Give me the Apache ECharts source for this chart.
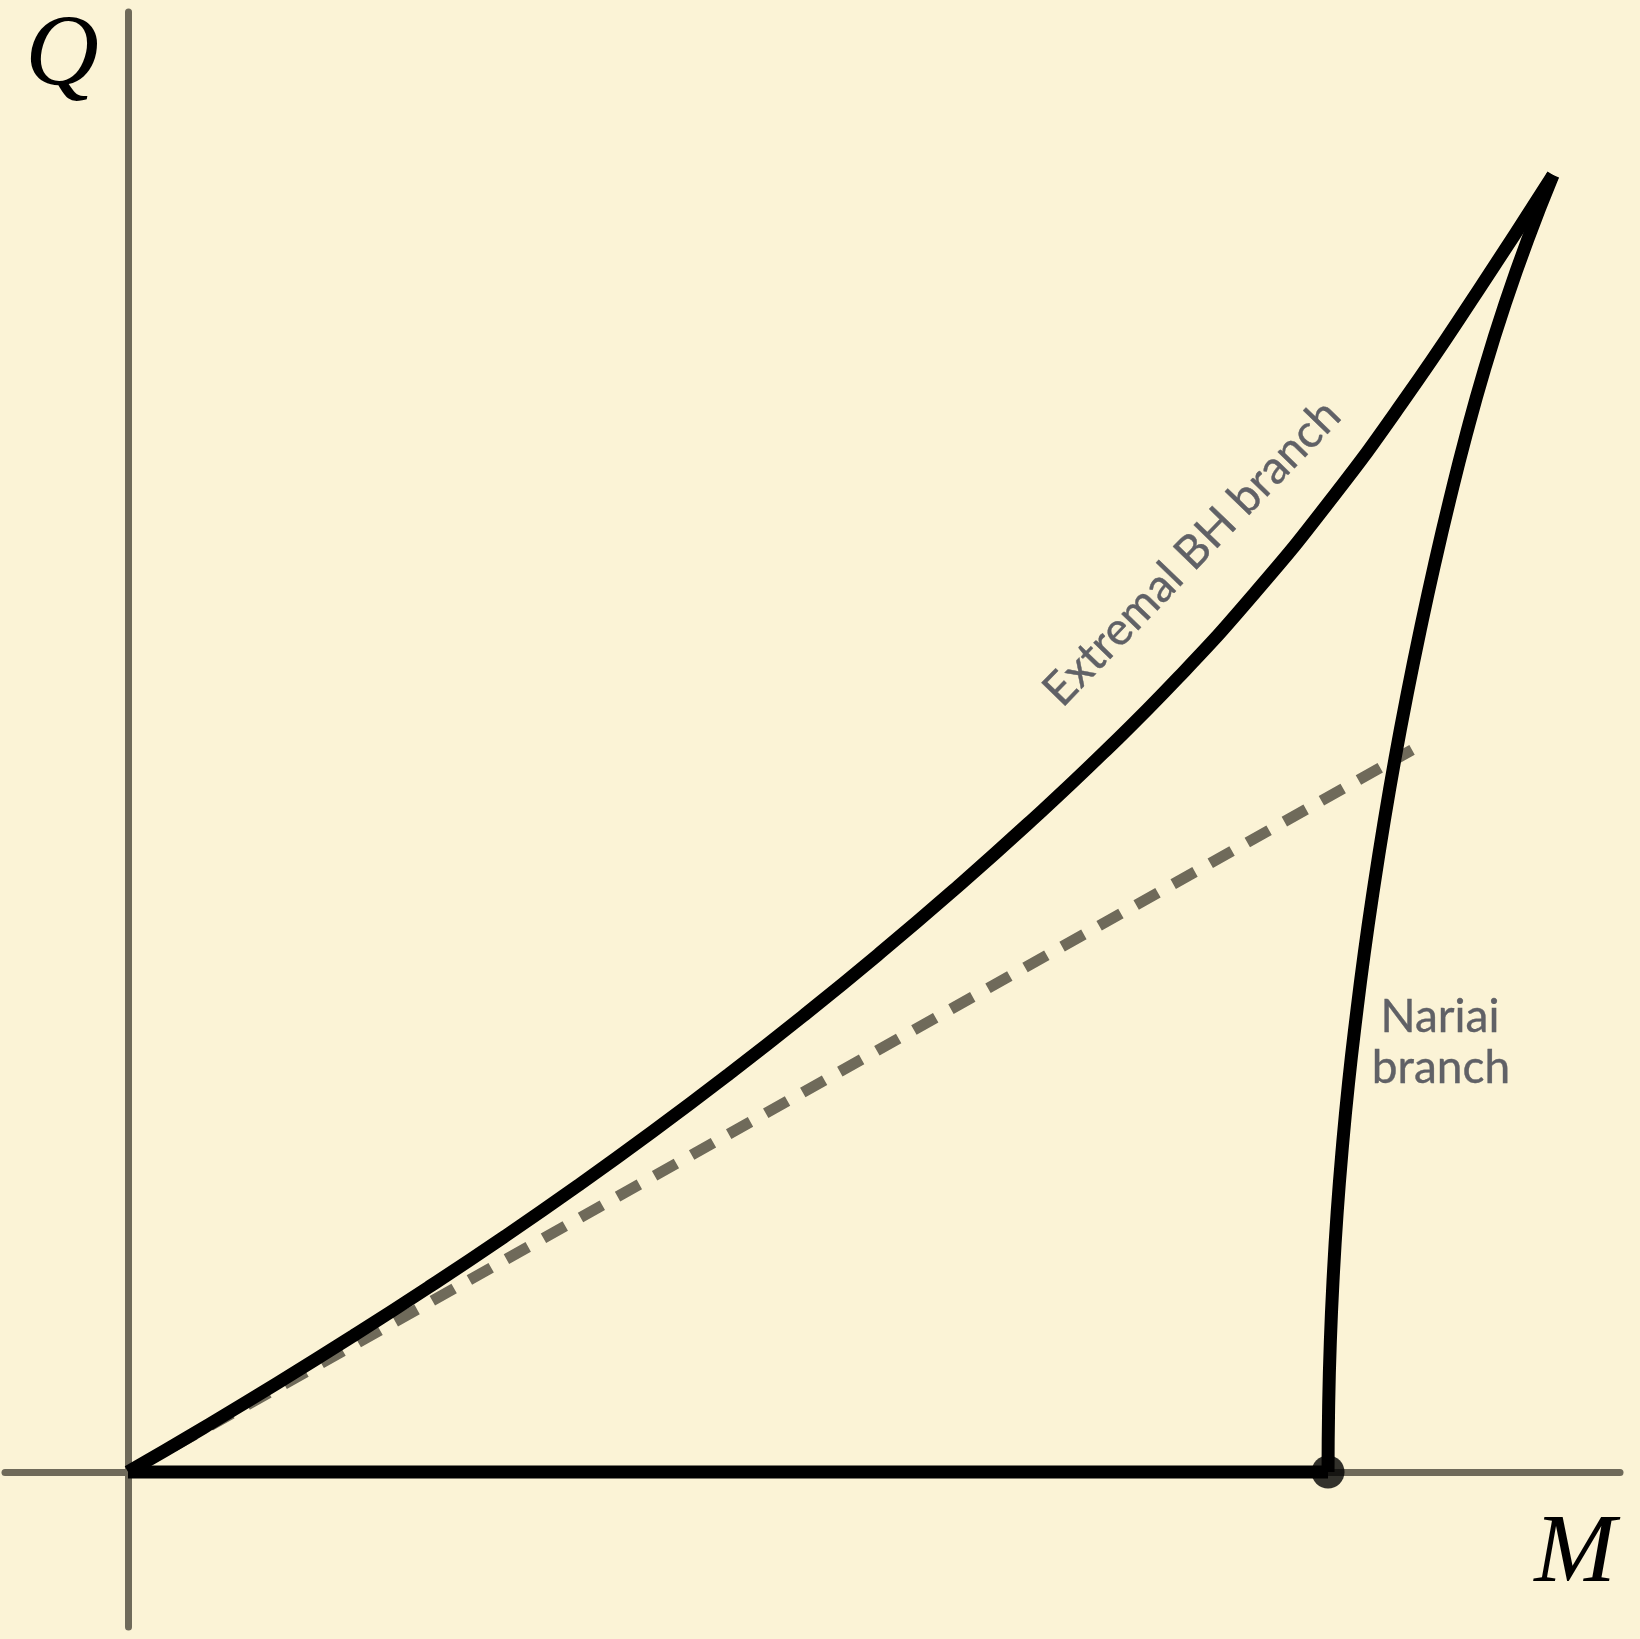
<!DOCTYPE html>
<html>
<head>
<meta charset="utf-8">
<script src="https://cdn.jsdelivr.net/npm/echarts@6/dist/echarts.min.js"></script>
<style>
  html, body { margin: 0; padding: 0; background: #fbf3d6; }
  #chart { width: 1640px; height: 1639px; }
</style>
</head>
<body>
<div id="chart"></div>
<script>
// Mass M is in units of the Nariai mass at Q = 0; charge Q uses the same scale.

// Extremal (cold) black-hole branch, from the origin up to the cusp
const extremalM = [0, 0.0625, 0.125, 0.1875, 0.25, 0.3125, 0.375, 0.4375, 0.5, 0.5625, 0.625, 0.6875, 0.75, 0.8125, 0.875, 0.9375, 1.0, 1.0625, 1.125, 1.1875];
const extremalQ = [0, 0.0366, 0.0743, 0.1133, 0.1536, 0.1953, 0.2387, 0.2839, 0.331, 0.38, 0.4311, 0.4845, 0.5403, 0.599, 0.6618, 0.7308, 0.8073, 0.8921, 0.9844, 1.0808];

// Nariai branch, from the cusp down to the uncharged Nariai point
const nariaiM = [1.1875, 1.1663, 1.1473, 1.1303, 1.1152, 1.1015, 1.0888, 1.077, 1.066, 1.0558, 1.0465, 1.038, 1.0302, 1.0233, 1.0171, 1.0119, 1.0076, 1.0043, 1.0019, 1.0005, 1.0];
const nariaiQ = [1.0808, 1.0268, 0.9728, 0.9187, 0.8647, 0.8106, 0.7566, 0.7025, 0.6485, 0.5945, 0.5404, 0.4864, 0.4323, 0.3783, 0.3243, 0.2702, 0.2162, 0.1621, 0.1081, 0.054, 0];

// Uncharged (Schwarzschild–de Sitter) segment along the M axis
const unchargedM = [0, 1.0];
const unchargedQ = [0, 0];

// Dashed straight line through the origin, drawn from its far end back to the origin
const lukewarmM = [1.07, 0];
const lukewarmQ = [0.6018, 0];

// Nariai point with zero charge
const nariaiPointM = [1.0];
const nariaiPointQ = [0];

// Axis titles and branch labels
const axisTitleM = 'M';
const axisTitleQ = 'Q';
const extremalLabel = 'Extremal BH branch';
const nariaiLabel = ['Nariai', 'branch'];

const zip = (xs, ys) => xs.map((x, i) => [x, ys[i]]);

const AXIS_COLOR = '#6f6a5a';
const LABEL_COLOR = '#606166';
const LABEL_FONT = 'Lato, "Open Sans", sans-serif';
const MATH_FONT = '"Liberation Serif", "DejaVu Serif", serif';
const CURVE_WIDTH = 13;

const chart = echarts.init(document.getElementById('chart'), null, { renderer: 'canvas' });

const hiddenAxisParts = {
  axisTick: { show: false },
  axisLabel: { show: false },
  splitLine: { show: false }
};

const curve = (name, data) => ({
  name,
  type: 'line',
  data,
  smooth: 0.5,
  showSymbol: false,
  symbol: 'none',
  silent: true,
  z: 3,
  lineStyle: { color: '#000000', width: CURVE_WIDTH, cap: 'butt', join: 'round' }
});

const label = (text, x, y, rotationDeg) => ({
  type: 'text',
  x, y,
  rotation: (rotationDeg || 0) * Math.PI / 180,
  silent: true,
  style: {
    text, x: 0, y: 0,
    fill: LABEL_COLOR, stroke: LABEL_COLOR, lineWidth: 0.4,
    font: '46px ' + LABEL_FONT,
    textAlign: 'center', textVerticalAlign: 'middle'
  }
});

chart.setOption({
  backgroundColor: '#fbf3d6',
  animation: false,
  grid: { left: 5, right: 20, top: 12, bottom: 12 },
  xAxis: Object.assign({
    type: 'value',
    min: -0.1025,
    max: 1.2433,
    axisLine: { show: true, onZero: true, lineStyle: { color: AXIS_COLOR, width: 7 } }
  }, hiddenAxisParts),
  yAxis: Object.assign({
    type: 'value',
    min: -0.1292,
    max: 1.2167,
    axisLine: { show: true, onZero: true, lineStyle: { color: AXIS_COLOR, width: 7 } }
  }, hiddenAxisParts),
  series: [
    {
      name: 'lukewarm',
      type: 'line',
      data: zip(lukewarmM, lukewarmQ),
      showSymbol: false,
      symbol: 'none',
      silent: true,
      z: 2,
      lineStyle: { color: AXIS_COLOR, width: 11, type: [25, 17.5], dashOffset: 6, cap: 'butt' }
    },
    {
      name: 'uncharged',
      type: 'line',
      data: zip(unchargedM, unchargedQ),
      showSymbol: false,
      symbol: 'none',
      silent: true,
      z: 3,
      lineStyle: { color: '#000000', width: CURVE_WIDTH, cap: 'butt' }
    },
    curve('extremal', zip(extremalM, extremalQ)),
    curve('nariai', zip(nariaiM, nariaiQ)),
    {
      name: 'nariaiPoint',
      type: 'scatter',
      data: zip(nariaiPointM, nariaiPointQ),
      symbol: 'circle',
      symbolSize: 33,
      silent: true,
      z: 4,
      itemStyle: { color: '#000000' }
    }
  ],
  graphic: [
    label(extremalLabel, 1192, 553, 46),
    label(nariaiLabel[0], 1440, 1017),
    label(nariaiLabel[1], 1441, 1068),
    {
      type: 'text',
      x: 62, y: 58,
      silent: true,
      style: {
        text: axisTitleQ, x: 0, y: 0,
        fill: '#000000', font: 'italic 102px ' + MATH_FONT,
        textAlign: 'center', textVerticalAlign: 'middle'
      }
    },
    {
      type: 'text',
      x: 1575, y: 1555,
      silent: true,
      style: {
        text: axisTitleM, x: 0, y: 0,
        fill: '#000000', font: 'italic 98px ' + MATH_FONT,
        textAlign: 'center', textVerticalAlign: 'middle'
      }
    }
  ]
});
</script>
</body>
</html>
